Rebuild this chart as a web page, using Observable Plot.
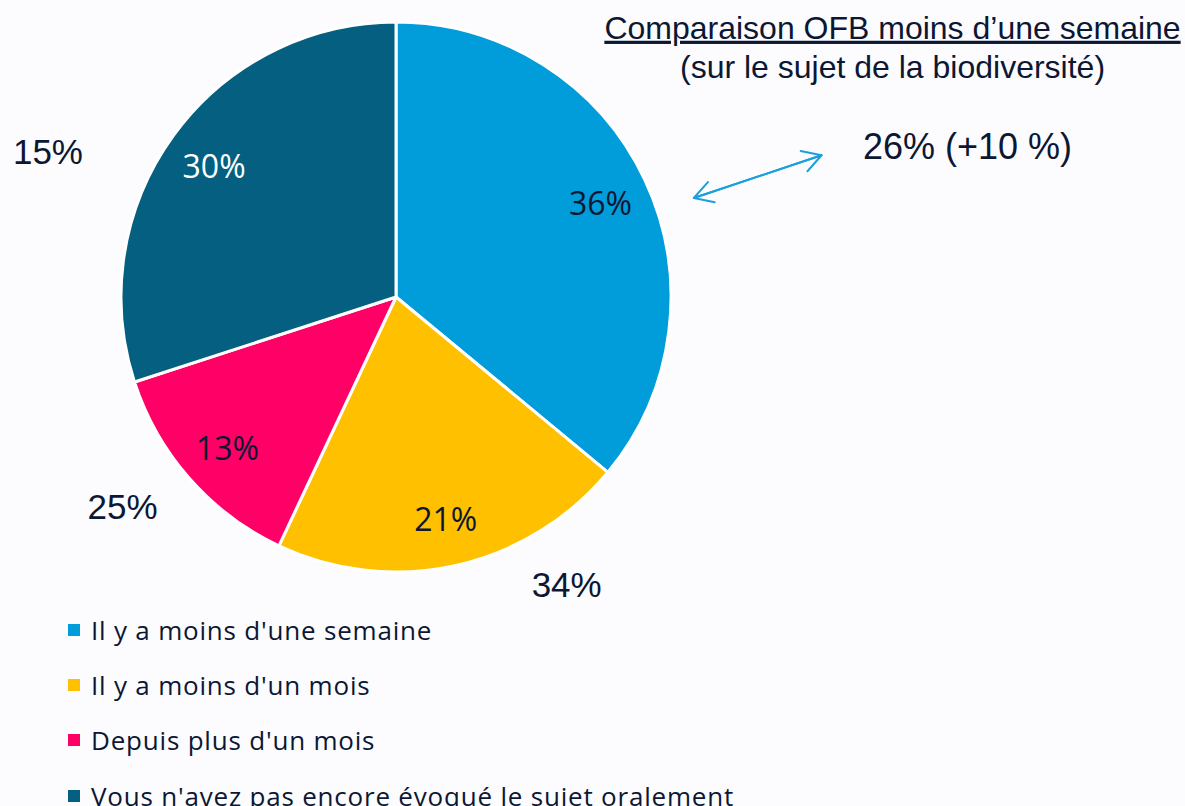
<!DOCTYPE html>
<html><head><meta charset="utf-8">
<script src="https://cdn.jsdelivr.net/npm/d3@7"></script>
<script src="https://cdn.jsdelivr.net/npm/@observablehq/plot@0.6"></script>
<style>
html,body{margin:0;padding:0;background:#fcfcfe;}
#chart{width:1185px;height:806px;overflow:hidden;}
.legend{padding:0 0 0 68px;font-family:"Open Sans",sans-serif;font-size:26px;letter-spacing:0.8px;color:#0c1733;}
.legend .item{height:55.3px;display:flex;align-items:center;white-space:nowrap;}
.legend .sw{width:12px;height:12px;margin-right:11px;flex:none;}
</style></head><body><div id="chart"></div>
<script>
// ---- data ----
const categories = ["Il y a moins d'une semaine", "Il y a moins d'un mois", "Depuis plus d'un mois", "Vous n'avez pas encore évoqué le sujet oralement"];
const values = [36, 21, 13, 30];
const previousValues = [26, 34, 25, 15];   // comparaison OFB
const colors = ["#019dda", "#ffc000", "#ff0066", "#045f80"];
const titleText = "Comparaison OFB moins d’une semaine";
const subtitleText = "(sur le sujet de la biodiversité)";

// ---- layout (not data) ----
const ink = "#0c1733";
const colorOf = d3.scaleOrdinal(categories, colors);
const pieData = categories.map((c, i) => ({category: c, value: values[i], previous: previousValues[i]}));
const arcs = d3.pie().sort(null).value(d => d.value)(pieData);
const polar = (a, r) => ({x: r * Math.sin(a), y: r * Math.cos(a)});
const mid = a => (a.startAngle + a.endAngle) / 2;

const innerLabels = arcs.map((a, i) => ({...polar(mid(a), 0.82), text: a.data.value + "%", fill: i === 3 ? "white" : ink}));
const outerNudge = {1: [94, -53], 2: [-12, -21], 3: [-66, 61]};
const outerLabels = arcs.map((a, i) => ({...polar(mid(a), 1.27), text: a.data.previous + "%", i}));

const arrowAngle = 71.5 * Math.PI / 180;
const a0 = polar(arrowAngle, 1.14), a1 = polar(arrowAngle, 1.63);
const compText = `${previousValues[0]}% (+${values[0] - previousValues[0]} %)`;

function pieMark(index, scales) {
  const cx = scales.x(0), cy = scales.y(0), R = scales.x(1) - cx;
  const arc = d3.arc().innerRadius(0).outerRadius(R);
  const g = d3.create("svg:g").attr("aria-label", "pie").attr("transform", `translate(${cx},${cy})`);
  g.selectAll("path").data(arcs).join("path")
    .attr("d", arc).attr("fill", d => colorOf(d.data.category))
    .attr("stroke", "white").attr("stroke-width", 3).attr("stroke-linejoin", "round");
  return g.node();
}

const arial = "Liberation Sans, Arial, sans-serif";
const arrowOpts = {x1: "x1", y1: "y1", x2: "x2", y2: "y2", stroke: "#1aa0dc", strokeWidth: 2, headLength: 16, insetStart: 0, insetEnd: 0};
const annot = {frameAnchor: "top-right", textAnchor: "middle", lineAnchor: "middle", fill: ink, fontFamily: arial};
const marks = [
  pieMark,
  Plot.text(innerLabels, {x: "x", y: "y", text: "text", fill: "fill", fontSize: 32, fontFamily: "Open Sans", dy: 3}),
  ...[1, 2, 3].map(i => Plot.text([outerLabels[i]], {x: "x", y: "y", text: "text", fill: ink, fontSize: 35, fontFamily: arial, dx: outerNudge[i][0], dy: outerNudge[i][1]})),
  Plot.arrow([{x1: a0.x, y1: a0.y, x2: a1.x, y2: a1.y}], arrowOpts),
  Plot.arrow([{x1: a1.x, y1: a1.y, x2: a0.x, y2: a0.y}], arrowOpts),
  Plot.text([titleText], {...annot, dx: -293, dy: 28, fontSize: 32}),
  Plot.text([subtitleText], {...annot, dx: -293, dy: 67, fontSize: 32}),
  Plot.text([compText], {...annot, dx: -218, dy: 147, fontSize: 36})
];

const chart = Plot.plot({
  width: 1185, height: 602, margin: 0,
  x: {domain: [-1, 1], range: [121, 671], axis: null},
  y: {domain: [-1, 1], range: [572, 22], axis: null},
  style: {background: "#fcfcfe", overflow: "visible"},
  marks
});
d3.select(chart).selectAll("text").filter(function() { return this.textContent === titleText; })
  .attr("text-decoration", "underline").style("text-decoration", "underline");

const host = document.getElementById("chart");
host.appendChild(chart);
const legend = d3.select(host).append("div").attr("class", "legend");
const items = legend.selectAll("div").data(categories).join("div").attr("class", "item");
items.append("span").attr("class", "sw").style("background", d => colorOf(d));
items.append("span").text(d => d);
</script></body></html>
